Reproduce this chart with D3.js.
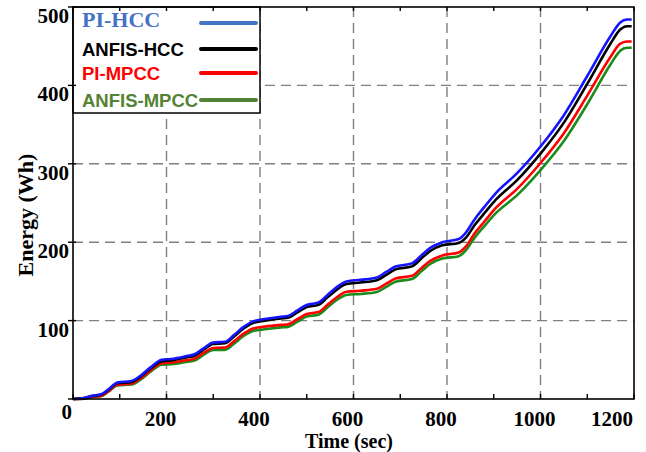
<!DOCTYPE html>
<html>
<head>
<meta charset="utf-8">
<script src="https://cdn.jsdelivr.net/npm/d3@7"></script>
<style>
	body { margin: 0; background: #fff; }
	svg { display: block; }
</style>
</head>
<body>
<svg id="chart"></svg>
<script>
// time axis (sec) shared by the four curves
var timeSec = [0, 20, 40, 60, 75, 95, 125, 145, 165, 190, 210, 245, 260, 280, 300, 325, 345, 365, 385, 410,
	445, 460, 480, 500, 525, 545, 565, 585, 615, 650, 670, 690, 725, 745, 765, 790, 825, 840, 860, 880,
	905, 950, 1000, 1050, 1100, 1150, 1170, 1185, 1195];

// energy (Wh)
var piHcc = [0, 1, 4, 6, 12, 21, 23, 30, 40, 50, 51, 55, 57, 65, 72, 73, 82, 92, 99, 102,
	105, 106, 113, 120, 123, 133, 143, 150, 152, 155, 162, 169, 173, 183, 193, 200, 204, 212, 230, 245,
	263, 288, 322, 362, 412, 463, 480, 484, 484];
var anfisHcc = [0, 0.8, 3.6, 5.4, 11.3, 20, 21.8, 28.7, 38.5, 48.3, 49.3, 53.3, 55.2, 63.2, 70.2, 71.1, 80.1, 90, 97, 99.9,
	102.7, 103.6, 110.4, 117.3, 120.1, 130, 139.9, 146.7, 148.6, 151.5, 158.4, 165.3, 169.2, 179.2, 189.1, 196, 199, 205.5, 222.5, 237,
	254.5, 279.2, 313, 352.5, 402, 453.5, 471, 475.5, 475.5];
var piMpcc = [0, 0.4, 2.8, 4.2, 9.8, 18.1, 19.8, 26.5, 36.2, 45.8, 46.5, 49.7, 51.4, 59, 65.1, 65.5, 74, 83.3, 89.8, 92.3,
	94.5, 95.2, 101.8, 108.4, 110.9, 120.5, 130.1, 136.7, 138.1, 140.5, 147.1, 153.7, 157.1, 166.8, 176.5, 183.1, 186.8, 194.4, 212, 226.4,
	244, 268, 301, 339, 387, 436.5, 453, 456, 456];
var anfisMpcc = [0, 0.2, 2.4, 3.6, 9, 17.2, 18.5, 25, 34.4, 43.8, 44.3, 47.5, 49, 56.6, 62.5, 62.7, 71, 80.4, 86.7, 89,
	91.4, 92, 98.6, 105.2, 107.6, 117.1, 126.6, 132.7, 134, 136.5, 143, 149.6, 153.1, 162.8, 172.5, 179.2, 182.2, 189.5, 206.5, 220.5,
	237.3, 260, 292, 329, 376, 427, 444, 448, 448];

var xTicks = [0, 200, 400, 600, 800, 1000, 1200];
var xMinorTicks = [100, 300, 500, 700, 900, 1100];
var yTicks = [0, 100, 200, 300, 400, 500];
var seriesNames = ["PI-HCC", "ANFIS-HCC", "PI-MPCC", "ANFIS-MPCC"];

var width = 646, height = 452;
var svg = d3.select("#chart").attr("width", width).attr("height", height);

var x = d3.scaleLinear().domain([0, 1200]).range([73, 634]);
var y = d3.scaleLinear().domain([0, 500]).range([399, 7]);

var curveColors = ["#1414ff", "#000000", "#ff0000", "#1a8c1a"];
var legendLineColors = ["#4472c4", "#000000", "#ff0000", "#548235"];
var legendTextColors = ["#4472c4", "#000000", "#ff0000", "#548235"];

// dashed grid
var grid = svg.append("g").attr("stroke", "#7f7f7f").attr("stroke-width", 1.4).attr("stroke-dasharray", "10,6");
grid.selectAll("line.vg")
	.data(xTicks.slice(1, -1))
	.enter()
	.append("line")
	.attr("x1", d => x(d)).attr("x2", d => x(d))
	.attr("y1", y(500)).attr("y2", y(0));
grid.selectAll("line.hg")
	.data(yTicks.slice(1, -1))
	.enter()
	.append("line")
	.attr("x1", x(0)).attr("x2", x(1200))
	.attr("y1", d => y(d)).attr("y2", d => y(d));

// curves
var allSeries = [piHcc, anfisHcc, piMpcc, anfisMpcc];
var line = d3.line()
	.x((d, i) => x(timeSec[i]))
	.y(d => y(d))
	.curve(d3.curveMonotoneX);

svg.append("g").selectAll("path")
	.data(allSeries.slice().reverse())
	.enter()
	.append("path")
	.attr("d", line)
	.attr("fill", "none")
	.attr("stroke", (d, i) => curveColors[3 - i])
	.attr("stroke-width", 2.6)
	.attr("stroke-linejoin", "round");

// legend
var legend = svg.append("g");
legend.append("rect")
	.attr("x", 73).attr("y", 7)
	.attr("width", 187).attr("height", 106)
	.attr("fill", "#fff")
	.attr("stroke", "#000")
	.attr("stroke-width", 1.5);

var legendY = [23, 49, 73, 100];
legend.selectAll("line.key")
	.data(seriesNames)
	.enter()
	.append("line")
	.attr("x1", 201).attr("x2", 256)
	.attr("y1", (d, i) => legendY[i]).attr("y2", (d, i) => legendY[i])
	.attr("stroke", (d, i) => legendLineColors[i])
	.attr("stroke-width", 4)
	.attr("stroke-linecap", "round");

legend.selectAll("text")
	.data(seriesNames)
	.enter()
	.append("text")
	.attr("x", 82)
	.attr("y", (d, i) => legendY[i] + 4 + (i == 0 ? 0 : 3))
	.attr("font-family", (d, i) => i == 0 ? "Liberation Serif, serif" : "Liberation Sans, Arial, sans-serif")
	.attr("font-weight", "bold")
	.attr("font-size", (d, i) => i == 0 ? "22px" : "18.5px")
	.attr("fill", (d, i) => legendTextColors[i])
	.text(d => d);

// frame
svg.append("rect")
	.attr("x", x(0)).attr("y", y(500))
	.attr("width", x(1200) - x(0)).attr("height", y(0) - y(500))
	.attr("fill", "none")
	.attr("stroke", "#000")
	.attr("stroke-width", 1.6);

// ticks
var ticks = svg.append("g").attr("stroke", "#000").attr("stroke-width", 1.4);
ticks.selectAll("line.xb")
	.data(xTicks.concat(xMinorTicks))
	.enter()
	.append("line")
	.attr("x1", d => x(d)).attr("x2", d => x(d))
	.attr("y1", y(0)).attr("y2", y(0) - 5);
ticks.selectAll("line.xt")
	.data(xTicks.concat(xMinorTicks))
	.enter()
	.append("line")
	.attr("x1", d => x(d)).attr("x2", d => x(d))
	.attr("y1", y(500)).attr("y2", y(500) + 4);
ticks.selectAll("line.yl")
	.data(yTicks)
	.enter()
	.append("line")
	.attr("x1", x(0) - 5).attr("x2", x(0) + 3)
	.attr("y1", d => y(d)).attr("y2", d => y(d));

// tick labels
var labelFont = "Liberation Serif, 'Times New Roman', serif";
svg.append("g").selectAll("text")
	.data(yTicks)
	.enter()
	.append("text")
	.attr("x", d => d == 0 ? 72 : 69)
	.attr("y", d => y(d) + (d == 0 ? 20 : 16))
	.attr("text-anchor", "end")
	.attr("font-family", labelFont)
	.attr("font-weight", "bold")
	.attr("font-size", "21px")
	.text(d => d);

svg.append("g").selectAll("text")
	.data(xTicks.slice(1))
	.enter()
	.append("text")
	.attr("x", d => d == 1200 ? x(d) - 1 : x(d) - 6)
	.attr("y", 426)
	.attr("text-anchor", d => d == 1200 ? "end" : "middle")
	.attr("font-family", labelFont)
	.attr("font-weight", "bold")
	.attr("font-size", "21px")
	.text(d => d);

svg.append("text")
	.attr("x", 349).attr("y", 448)
	.attr("text-anchor", "middle")
	.attr("font-family", labelFont)
	.attr("font-weight", "bold")
	.attr("font-size", "20px")
	.text("Time (sec)");

svg.append("text")
	.attr("transform", "translate(33,215) rotate(-90)")
	.attr("text-anchor", "middle")
	.attr("font-family", labelFont)
	.attr("font-weight", "bold")
	.attr("font-size", "22px")
	.text("Energy (Wh)");
</script>
</body>
</html>
